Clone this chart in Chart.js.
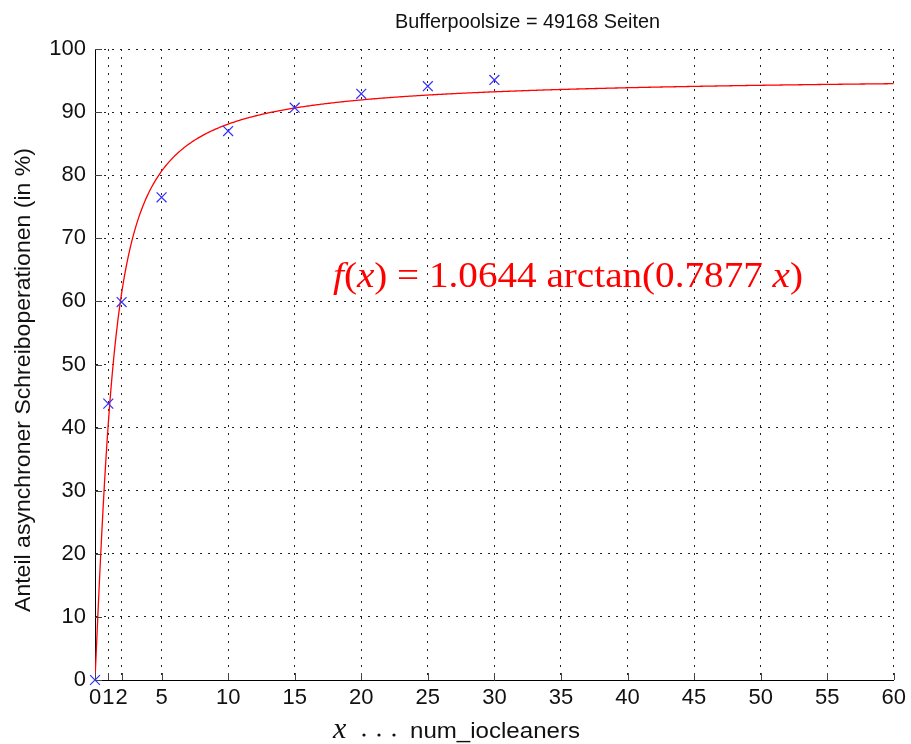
<!DOCTYPE html>
<html>
<head>
<meta charset="utf-8">
<script src="https://cdn.jsdelivr.net/npm/chart.js@4/dist/chart.umd.min.js"></script>
<style>
  html, body { margin: 0; padding: 0; background: #fff; }
  #wrap { width: 911px; height: 744px; }
</style>
</head>
<body>
<div id="wrap"><canvas id="chart"></canvas></div>
<script>
// measured write ratio per number of io cleaners
const cleaners = [0, 1, 2, 5, 10, 15, 20, 25, 30];
const asyncShare = [0, 43.8, 59.9, 76.5, 87.0, 90.7, 92.9, 94.1, 95.1];

// fitted curve f(x) = a * arctan(b * x), arctan in degrees
const fitA = 1.0644;
const fitB = 0.7877;
const fitXs = [];
for (let i = 0; i <= 600; i++) fitXs.push(i / 10);

const xTicks = [0, 1, 2, 5, 10, 15, 20, 25, 30, 35, 40, 45, 50, 55, 60];
const yTicks = [0, 10, 20, 30, 40, 50, 60, 70, 80, 90, 100];

const titleText = 'Bufferpoolsize = 49168 Seiten';
const yLabel = 'Anteil asynchroner Schreiboperationen (in %)';
const xLabel = 'num_iocleaners';

const fitPoints = fitXs.map(x => ({ x, y: fitA * Math.atan(fitB * x) * 180 / Math.PI }));
const measured = cleaners.map((x, i) => ({ x, y: asyncShare[i] }));

const sans = '"Liberation Sans", Arial, sans-serif';
const serif = '"Liberation Serif", "DejaVu Serif", serif';

// draw a run of [text, font] pieces left to right
function drawRuns(ctx, runs, x, y) {
  runs.forEach(([txt, font]) => {
    ctx.font = font;
    ctx.fillText(txt, x, y);
    x += ctx.measureText(txt).width;
  });
}
function runsWidth(ctx, runs) {
  return runs.reduce((w, [txt, font]) => { ctx.font = font; return w + ctx.measureText(txt).width; }, 0);
}
// text squeezed or stretched to a given width, starting at x
function fitText(ctx, txt, font, x, y, width) {
  ctx.font = font;
  const w = ctx.measureText(txt).width;
  ctx.save();
  ctx.translate(x, y);
  ctx.scale(width / w, 1);
  ctx.textAlign = 'left';
  ctx.fillText(txt, 0, 0);
  ctx.restore();
}

const decorations = {
  id: 'decorations',
  afterDraw(chart) {
    const { ctx, chartArea: a, scales } = chart;
    ctx.save();

    // inward tick marks
    ctx.strokeStyle = '#444';
    ctx.lineWidth = 1;
    ctx.beginPath();
    xTicks.forEach(v => {
      const px = Math.round(scales.x.getPixelForValue(v)) + 0.5;
      ctx.moveTo(px, a.bottom);
      ctx.lineTo(px, a.bottom - 7);
    });
    yTicks.forEach(v => {
      const py = Math.round(scales.y.getPixelForValue(v)) + 0.5;
      ctx.moveTo(a.left, py);
      ctx.lineTo(a.left + 7, py);
    });
    ctx.stroke();

    ctx.fillStyle = '#111';
    ctx.textBaseline = 'alphabetic';

    // title
    fitText(ctx, titleText, '21px ' + sans, 395, 28, 265);

    // y axis label
    ctx.save();
    ctx.translate(30, 612);
    ctx.rotate(-Math.PI / 2);
    fitText(ctx, yLabel, '22px ' + sans, 0, 0, 464);
    ctx.restore();

    // x axis label: italic x, three dots, variable name
    ctx.textAlign = 'left';
    ctx.font = 'italic 30px ' + serif;
    ctx.fillText('x', 333, 738);
    [364, 379, 394].forEach(dx => {
      ctx.beginPath();
      ctx.arc(dx, 735, 1.6, 0, Math.PI * 2);
      ctx.fill();
    });
    fitText(ctx, xLabel, '22px ' + sans, 410, 738, 170);

    // fit formula
    ctx.fillStyle = '#ff0000';
    const it = 'italic 36px ' + serif;
    const rm = '36px ' + serif;
    const formula = [
      ['f', it], ['(', rm], ['x', it], [')', rm],
      [' = 1.0644 arctan(0.7877 ', rm], ['x', it], [')', rm]
    ];
    const w = runsWidth(ctx, formula);
    ctx.save();
    ctx.translate(333, 287);
    ctx.scale(470 / w, 1);
    drawRuns(ctx, formula, 0, 0);
    ctx.restore();

    ctx.restore();
  }
};

new Chart(document.getElementById('chart'), {
  type: 'scatter',
  data: {
    datasets: [
      {
        type: 'line',
        data: fitPoints,
        borderColor: '#ff0000',
        borderWidth: 1.3,
        pointRadius: 0,
        tension: 0,
        fill: false,
        order: 2
      },
      {
        data: measured,
        pointStyle: 'crossRot',
        pointRadius: 7,
        borderColor: '#3030ff',
        backgroundColor: '#3030ff',
        pointBorderWidth: 1.2,
        clip: false,
        order: 1
      }
    ]
  },
  options: {
    responsive: true,
    maintainAspectRatio: false,
    animation: false,
    layout: { padding: { top: 49, right: 16, left: 0, bottom: 0 } },
    plugins: { legend: { display: false }, tooltip: { enabled: false }, title: { display: false } },
    scales: {
      x: {
        type: 'linear',
        min: 0,
        max: 60,
        afterBuildTicks: s => { s.ticks = xTicks.map(v => ({ value: v })); },
        afterFit: s => { s.height = 64; },
        ticks: {
          autoSkip: false,
          maxRotation: 0,
          padding: 5,
          color: '#111',
          font: { family: sans, size: 22 }
        },
        grid: { color: '#222', lineWidth: 1, drawTicks: false },
        border: { display: true, color: '#000', width: 1, dash: [2, 6] }
      },
      y: {
        min: 0,
        max: 100,
        afterBuildTicks: s => { s.ticks = yTicks.map(v => ({ value: v })); },
        afterFit: s => { s.width = 95; },
        ticks: {
          autoSkip: false,
          padding: 9,
          color: '#111',
          font: { family: sans, size: 22 }
        },
        grid: { color: '#222', lineWidth: 1, drawTicks: false },
        border: { display: true, color: '#000', width: 1, dash: [2, 6] }
      }
    }
  },
  plugins: [decorations]
});
</script>
</body>
</html>
